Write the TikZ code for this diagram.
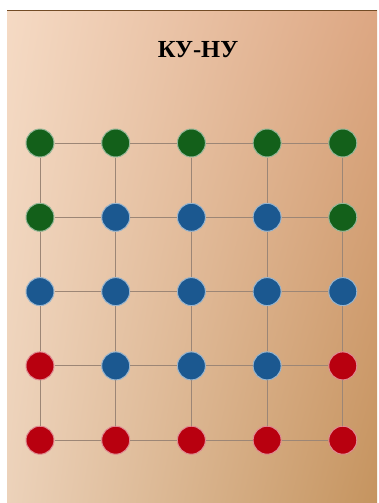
\documentclass[tikz,border=0pt]{standalone}
\usepackage{fontspec}
\setmainfont{Liberation Serif}
\usetikzlibrary{shadings}
\definecolor{boardtl}{HTML}{F5DAC4}
\definecolor{boardtr}{HTML}{DDA783}
\definecolor{boardbl}{HTML}{ECD2BA}
\definecolor{boardbr}{HTML}{C5945F}
\definecolor{gn}{HTML}{13601A}
\definecolor{bl}{HTML}{1B5890}
\definecolor{rd}{HTML}{B8000F}
\definecolor{wirecol}{HTML}{9C8676}

\begin{document}
\begin{tikzpicture}[x=1pt, y=-1pt,
      dot/.style={circle, minimum size=28pt, inner sep=0pt},   % one counter per point
      wire/.style={draw=wirecol, line width=0.9pt}]            % lines of the board
    \useasboundingbox (0,0) rectangle (378,503);
    \fill[white] (0,0) rectangle (378,503);
    \shade[upper left=boardtl, upper right=boardtr,
           lower left=boardbl, lower right=boardbr] (7,11) rectangle (377,502);
    \draw[brown!60!black, line width=1pt] (7,11) -- (377,11);  % top edge of the board
    \node[font=\bfseries\fontsize{24.5}{26}\selectfont] (title) at (198,50) {КУ-НУ};
    % counters, row by row
    \foreach \r/\cols in {1/{gn,gn,gn,gn,gn}, 2/{gn,bl,bl,bl,gn}, 3/{bl,bl,bl,bl,bl},
                          4/{rd,bl,bl,bl,rd}, 5/{rd,rd,rd,rd,rd}} {
      \foreach \col [count=\c] in \cols {
        \node[dot, fill=\col, draw=\col!45!white, line width=1pt]
          (d-\r-\c) at ({40+75.7*(\c-1)}, {143+74.3*(\r-1)}) {};
      }
    }
    % lines between neighbouring counters
    \foreach \r in {1,...,5} {
      \foreach \c [evaluate=\c as \n using int(\c+1)] in {1,...,4} {
        \draw[wire] (d-\r-\c) -- (d-\r-\n);                    % across
        \draw[wire] (d-\c-\r) -- (d-\n-\r);                    % down
      }
    }
  \end{tikzpicture}
\end{document}
